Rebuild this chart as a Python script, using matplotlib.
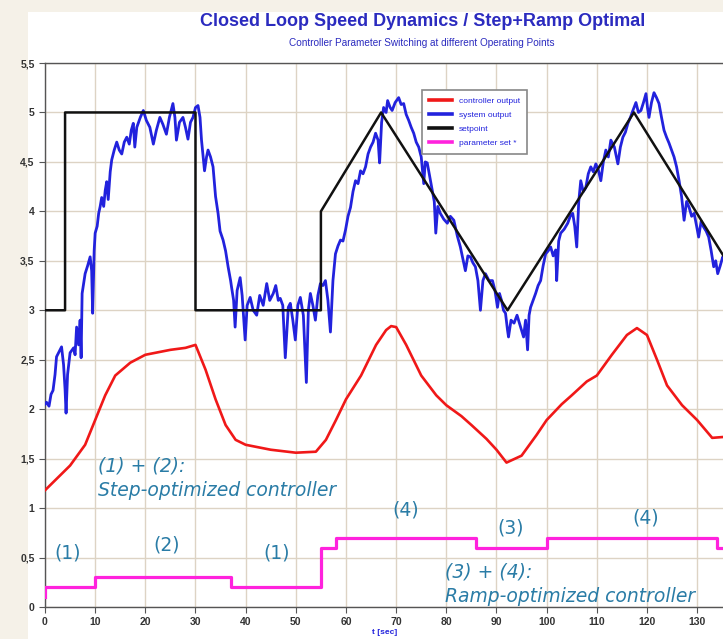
import numpy as np
import matplotlib
matplotlib.use('Agg')
import matplotlib.pyplot as plt
from matplotlib.patches import Rectangle

plt.rcParams['font.family'] = ['Liberation Sans', 'DejaVu Sans']

# setpoint (black)
t_set = [0, 4, 4, 30, 30, 55, 55, 67, 92.2, 117.4, 135.5]
v_set = [3, 3, 5, 5, 3, 3, 4, 5, 3, 5, 3.53]

# parameter set (magenta), step values
t_par = [0, 0, 10, 37, 55, 58, 86, 100, 134, 135.5]
v_par = [0.1, 0.2, 0.3, 0.2, 0.6, 0.7, 0.6, 0.7, 0.6, 0.6]

# controller output (red)
t_ctl = [0, 2, 5, 8, 10, 12, 14, 17, 20, 23, 25, 28, 30, 32, 34, 36, 38, 40, 45, 50, 54,
         56, 58, 60, 63, 66, 68, 69, 70, 72, 75, 78, 80, 83, 85, 88, 90, 92, 95, 98, 100,
         103, 105, 108, 110, 113, 116, 118, 120, 122, 124, 127, 130, 133, 135.5]
v_ctl = [1.18, 1.28, 1.43, 1.64, 1.89, 2.14, 2.34, 2.47, 2.55, 2.58, 2.6, 2.62, 2.65, 2.4,
         2.1, 1.84, 1.69, 1.64, 1.59, 1.56, 1.57, 1.69, 1.89, 2.1, 2.34, 2.65, 2.8, 2.84,
         2.83, 2.65, 2.34, 2.14, 2.04, 1.93, 1.84, 1.7, 1.59, 1.46, 1.53, 1.74, 1.89, 2.05,
         2.14, 2.28, 2.34, 2.55, 2.75, 2.82, 2.75, 2.5, 2.24, 2.04, 1.89, 1.71, 1.72]

# system output (blue)
t_sys = [0.0, 0.3, 0.8, 1.2, 1.6, 2.0, 2.3, 2.8, 3.3, 3.7, 4.0, 4.2, 4.5, 5.0, 5.7, 6.0,
         6.3, 6.7, 7.0, 7.2, 7.4, 8.0, 8.5, 9.0, 9.3, 9.5, 9.8, 10.0, 10.4, 10.7, 11.0,
         11.3, 11.7, 12.0, 12.3, 12.6, 13.0, 13.3, 13.8, 14.3, 14.8, 15.3, 15.8, 16.3,
         16.8, 17.2, 17.6, 17.9, 18.3, 19.0, 19.6, 20.2, 20.9, 21.6, 22.2, 22.9, 23.5,
         24.2, 24.8, 25.5, 25.9, 26.2, 26.8, 27.5, 28.0, 28.5, 29.0, 29.5, 30.0, 30.5,
         30.9, 31.2, 31.8, 32.2, 32.5, 33.0, 33.5, 34.0, 34.5, 34.9, 35.5, 36.0, 36.5,
         37.0, 37.2, 37.6, 37.9, 38.3, 38.9, 39.3, 39.9, 40.3, 40.9, 41.5, 42.2, 42.8,
         43.5, 44.2, 44.8, 45.5, 46.0, 46.5, 46.9, 47.4, 47.9, 48.5, 48.9, 49.4, 49.9,
         50.4, 50.9, 51.5, 52.1, 52.5, 52.9, 53.4, 53.9, 54.4, 54.9, 55.4, 55.9, 56.4,
         56.9, 57.4, 57.9, 58.4, 58.9, 59.4, 59.9, 60.4, 60.9, 61.4, 61.9, 62.4, 62.9,
         63.4, 63.9, 64.4, 64.9, 65.4, 65.9, 66.4, 66.7, 67.1, 67.5, 68.0, 68.3, 68.8,
         69.2, 69.8, 70.5, 71.0, 71.5, 72.0, 72.5, 73.0, 73.5, 74.0, 74.5, 75.0, 75.5,
         75.8, 76.2, 76.7, 77.2, 77.6, 77.9, 78.3, 78.8, 79.5, 80.2, 80.8, 81.5, 82.2,
         82.8, 83.3, 83.8, 84.3, 84.8, 85.3, 85.8, 86.3, 86.8, 87.3, 87.8, 88.5, 89.2,
         89.7, 90.2, 90.6, 91.0, 91.4, 91.8, 92.2, 92.4, 92.9, 93.5, 94.1, 94.8, 95.4,
         95.8, 96.2, 96.5, 96.8, 97.3, 97.8, 98.3, 98.8, 99.3, 99.8, 100.3, 100.8, 101.3,
         101.8, 102.0, 102.4, 102.8, 103.5, 104.2, 104.7, 105.2, 105.6, 106.0, 106.4,
         106.8, 107.3, 107.8, 108.3, 108.8, 109.3, 109.8, 110.3, 110.8, 111.3, 111.8,
         112.3, 112.8, 113.5, 114.2, 114.7, 115.2, 115.7, 116.2, 116.7, 117.2, 117.8,
         118.3, 118.8, 119.3, 119.8, 120.1, 120.4, 120.9, 121.4, 121.9, 122.4, 122.9,
         123.4, 123.9, 124.4, 124.9, 125.4, 125.9, 126.4, 126.9, 127.4, 127.9, 128.4,
         128.9, 129.4, 129.9, 130.3, 130.8, 131.3, 131.8, 132.3, 132.8, 133.3, 133.7,
         134.1, 134.6, 135.1, 135.5]
v_sys = [2.05, 2.07, 2.03, 2.15, 2.19, 2.35, 2.53, 2.58, 2.63, 2.45, 2.20, 1.96, 2.35,
         2.57, 2.62, 2.55, 2.83, 2.65, 2.90, 2.52, 3.17, 3.37, 3.45, 3.54, 3.40, 2.97,
         3.60, 3.78, 3.85, 3.98, 4.05, 4.14, 4.05, 4.21, 4.30, 4.12, 4.40, 4.52, 4.62,
         4.70, 4.62, 4.58, 4.70, 4.75, 4.68, 4.82, 4.89, 4.65, 4.85, 4.95, 5.02, 4.92,
         4.85, 4.68, 4.82, 4.95, 4.88, 4.78, 4.95, 5.09, 4.95, 4.72, 4.90, 4.95, 4.85,
         4.73, 4.90, 4.95, 5.05, 5.07, 4.95, 4.72, 4.41, 4.55, 4.62, 4.55, 4.45, 4.15,
         3.98, 3.80, 3.71, 3.60, 3.44, 3.30, 3.23, 3.10, 2.83, 3.20, 3.33, 3.15, 2.70,
         3.05, 3.13, 3.00, 2.95, 3.15, 3.05, 3.27, 3.10, 3.17, 3.25, 3.10, 3.12, 3.05,
         2.52, 3.03, 3.07, 2.90, 2.70, 3.05, 3.13, 2.95, 2.27, 3.00, 3.17, 3.05, 2.90,
         3.15, 3.27, 3.25, 3.30, 3.10, 2.78, 3.30, 3.57, 3.65, 3.71, 3.70, 3.81, 3.95,
         4.04, 4.20, 4.31, 4.28, 4.41, 4.38, 4.45, 4.58, 4.65, 4.70, 4.79, 4.72, 4.49,
         4.90, 5.05, 5.00, 5.12, 5.05, 5.02, 5.10, 5.15, 5.08, 5.09, 4.98, 4.92, 4.85,
         4.79, 4.70, 4.65, 4.55, 4.28, 4.50, 4.49, 4.35, 4.21, 4.10, 3.78, 4.05, 3.98,
         3.92, 3.88, 3.95, 3.91, 3.75, 3.64, 3.52, 3.40, 3.55, 3.54, 3.48, 3.44, 3.30,
         3.00, 3.30, 3.37, 3.30, 3.30, 3.20, 3.03, 3.17, 3.10, 3.00, 2.97, 2.80, 2.73,
         2.90, 2.87, 2.95, 2.83, 2.73, 2.90, 2.60, 2.95, 3.03, 3.10, 3.17, 3.25, 3.30,
         3.45, 3.57, 3.60, 3.64, 3.55, 3.61, 3.30, 3.70, 3.78, 3.82, 3.88, 3.95, 3.98,
         3.85, 3.64, 4.10, 4.31, 4.20, 4.24, 4.38, 4.45, 4.40, 4.48, 4.42, 4.31, 4.50,
         4.62, 4.55, 4.72, 4.65, 4.48, 4.65, 4.75, 4.80, 4.89, 4.95, 5.02, 5.10, 5.00,
         5.02, 5.10, 5.19, 5.05, 4.95, 5.10, 5.20, 5.15, 5.09, 4.95, 4.82, 4.75, 4.69,
         4.62, 4.55, 4.45, 4.31, 4.15, 3.91, 4.10, 4.04, 3.95, 3.98, 3.85, 3.74, 3.90,
         3.84, 3.80, 3.74, 3.60, 3.44, 3.50, 3.37, 3.45, 3.54, 3.50]

x_ticks = list(range(0, 140, 10))
y_ticks = [0, 0.5, 1, 1.5, 2, 2.5, 3, 3.5, 4, 4.5, 5, 5.5]
y_labels = ['0', '0,5', '1', '1,5', '2', '2,5', '3', '3,5', '4', '4,5', '5', '5,5']

blue = '#2222dd'
teal = '#2a7ca6'

fig = plt.figure(figsize=(7.23, 6.39), dpi=100, facecolor='#f5f1e8')
fig.add_artist(Rectangle((28 / 723, 0), 1, 1 - 12 / 639, transform=fig.transFigure,
                         facecolor='white', edgecolor='none', zorder=-10))
ax = fig.add_axes([45 / 723, 32 / 639, 1 - 45 / 723 + 0.001, (607 - 63) / 639])

ax.plot(t_ctl, v_ctl, color='#f01818', lw=1.9, label='controller output', zorder=3)
ax.plot(t_sys, v_sys, color=blue, lw=2.0, label='system output', zorder=4)
ax.plot(t_set, v_set, color='#111111', lw=1.8, label='setpoint', zorder=5)
ax.plot(t_par, v_par, color='#ff22dd', lw=2.3, drawstyle='steps-post',
        label='parameter set *', zorder=3)

ax.set_xlim(0, 135.3)
ax.set_ylim(0, 5.5)
ax.set_xticks(x_ticks)
ax.set_yticks(y_ticks)
ax.set_yticklabels(y_labels)
ax.grid(True, color='#ddd3c4', lw=1.0)
ax.set_axisbelow(True)
ax.tick_params(labelsize=7.5, colors='#555555', length=4, width=0.8)
for lab in ax.get_xticklabels() + ax.get_yticklabels():
    lab.set_fontweight('bold')
    lab.set_color('#333333')
for s in ['left', 'bottom', 'top']:
    ax.spines[s].set_color('#555555')
    ax.spines[s].set_linewidth(1.0)
ax.spines['right'].set_visible(False)

ax.set_xlabel('t [sec]', fontsize=6, color=blue, fontweight='bold', labelpad=1)

leg = ax.legend(loc='upper left', bbox_to_anchor=(0.556, 0.950), borderaxespad=0,
                fontsize=6, handlelength=2.8, labelcolor=blue, fancybox=False,
                framealpha=1, edgecolor='#888888', borderpad=0.8, labelspacing=0.75,
                handletextpad=0.8)
leg.get_frame().set_linewidth(1.2)
for h in leg.get_lines():
    h.set_linewidth(2.6)

fs = 13.5
tfam = ['DejaVu Sans']
ax.text(10.6, 1.43, '(1) + (2):', color=teal, fontsize=fs, style='italic', va='center',
        family=tfam)
ax.text(10.6, 1.18, 'Step-optimized controller', color=teal, fontsize=fs, style='italic',
        va='center', family=tfam)
ax.text(79.8, 0.35, '(3) + (4):', color=teal, fontsize=fs, style='italic', va='center',
        family=tfam)
ax.text(79.8, 0.11, 'Ramp-optimized controller', color=teal, fontsize=fs, style='italic',
        va='center', family=tfam)
for (tx, ty, s) in [(4.6, 0.55, '(1)'), (24.2, 0.63, '(2)'), (46.1, 0.55, '(1)'),
                    (71.9, 0.98, '(4)'), (92.8, 0.80, '(3)'), (119.8, 0.90, '(4)')]:
    ax.text(tx, ty, s, color=teal, fontsize=fs, ha='center', va='center', family=tfam)

fig.text(0.584, 0.966, 'Closed Loop Speed Dynamics / Step+Ramp Optimal', color='#2b2bbf',
         fontsize=13, fontweight='bold', ha='center', va='center')
fig.text(0.584, 0.933, 'Controller Parameter Switching at different Operating Points',
         color='#2b2bbf', fontsize=7.2, ha='center', va='center')

fig.savefig('out.png', dpi=100, facecolor=fig.get_facecolor())
